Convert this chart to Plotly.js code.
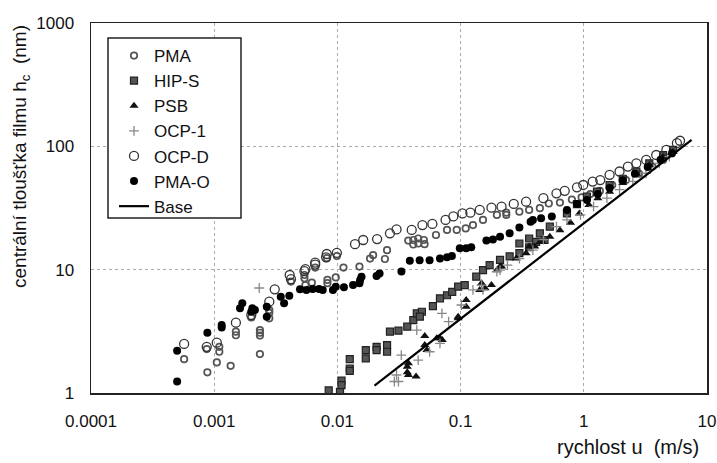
<!DOCTYPE html>
<html>
<head>
<meta charset="utf-8">
<script src="https://cdn.plot.ly/plotly-3.0.1.min.js"></script>
<style>html,body{margin:0;padding:0;background:#fff;}#chart{width:717px;height:463px;}</style>
</head>
<body>
<div id="chart"></div>
<script>
// ---- data (u in m/s, h_c in nm) ----
var pmaU = [0.00057,0.00088,0.00087,0.0011,0.0011,0.00105,0.00136,0.0015,0.0015,0.0020,0.00235,0.00235,0.00235,0.00235,0.0028,0.0028,0.0028,0.0042,0.0054,0.0054,0.0055,0.0062,0.0066,0.0082,0.0083,0.0083,0.0097,0.0099,0.0112,0.0151,0.0184,0.0195,0.0243,0.0253,0.0376,0.0413,0.0453,0.0503,0.0413,0.0453,0.051,0.0631,0.0776,0.093,0.11,0.126,0.152,0.197,0.235,0.235,0.30,0.36,0.44,0.52,0.64,0.8,0.96,1.13,1.35,1.7,2.2,2.8,3.6,4.4];
var pmaH = [1.88,1.47,2.27,2.37,2.16,1.77,1.66,3.14,2.94,4.1,3.24,3.08,2.92,2.07,4.7,4.47,4.03,8.0,9.05,8.5,7.5,7.84,10.4,12.4,8.25,7.77,8.65,12.9,10.4,10.6,12.3,13.1,12.2,14.4,17.2,17.4,17.9,17.4,16.0,16.3,16.1,19.1,21.0,21.0,21.6,23.0,25.3,27.8,27.8,29,29.5,30.5,31.5,34.4,35,37,38.5,41,43.5,48.6,53.3,60,68.5,77.6];

var hipU = [0.0085,0.0105,0.0108,0.0108,0.0126,0.0126,0.0126,0.017,0.017,0.0208,0.0208,0.0253,0.0253,0.0267,0.0313,0.0369,0.0413,0.0441,0.0485,0.0467,0.0596,0.068,0.0776,0.0855,0.0955,0.108,0.134,0.152,0.172,0.209,0.25,0.30,0.30,0.36,0.36,0.41,0.44,0.48,0.53,0.73,0.88,1.06,1.28,1.62,2.07,2.67,3.4,4.4,5.3];
var hipH = [1.05,1.02,1.26,1.16,1.88,1.58,1.51,2.23,1.91,2.37,2.23,2.44,2.16,3.14,3.2,3.45,3.9,4.43,4.56,4.16,5.07,5.85,6.2,6.6,7.28,7.5,8.77,9.9,10.9,12.0,12.8,13.6,16.3,15.2,17.9,16.8,19.7,17.4,22.3,28.6,34,39.2,42.9,48.6,54.6,62.5,72.8,85,93.5];

var psbU = [0.0369,0.0369,0.0377,0.0435,0.0377,0.0512,0.0512,0.0533,0.064,0.068,0.071,0.0955,0.0955,0.111,0.111,0.143,0.148,0.158,0.178,0.197,0.209,0.215,0.283,0.34,0.36,0.40,0.44,0.46,0.53,0.64,0.78,0.92,1.1,1.3,1.62,2.07,2.67,3.4,4.4,5.3];
var psbH = [1.47,1.63,1.74,1.36,1.40,2.9,2.45,2.23,2.78,2.78,2.69,4.16,4.03,5.0,5.67,6.85,7.77,7.07,7.5,9.9,10.6,10.6,12.3,13.6,15.4,15.4,16.8,16.8,18.5,20.9,24.0,28.6,33.5,38,42.9,50.5,60,70.7,82.5,90];

var ocp1U = [0.00232,0.029,0.0302,0.0313,0.033,0.0441,0.0453,0.056,0.068,0.0705,0.080,0.1015,0.126,0.148,0.152,0.197,0.209,0.24,0.30,0.386,0.47,0.6,0.73,0.94,1.2,1.54,1.95,2.5,3.2,4.1,4.95];
var ocp1H = [7.1,1.24,1.40,1.24,2.03,3.24,1.85,2.16,2.53,4.43,3.79,5.17,6.85,7.5,6.85,9.65,9.9,10.9,12.3,14.4,17.5,22.3,25.3,27.8,32.4,38,44.5,52,60.5,72.8,82.4];

var ocpdU = [0.00057,0.00087,0.00105,0.0015,0.0020,0.0028,0.0031,0.0041,0.0042,0.0054,0.0055,0.0066,0.0066,0.0081,0.0082,0.0099,0.0139,0.0162,0.021,0.0267,0.0302,0.0401,0.049,0.059,0.0755,0.0873,0.1035,0.12,0.143,0.178,0.215,0.27,0.34,0.47,0.6,0.7,0.88,0.99,1.18,1.36,1.62,1.95,2.28,2.67,3.21,3.87,4.68,5.7,6.04];
var ocpdH = [2.5,2.37,2.56,3.72,4.29,5.5,6.93,9.05,8.37,9.74,10.1,11.0,11.4,12.6,13.4,13.7,16.1,17.4,17.7,19.7,21.2,21.0,23.0,23.5,25.3,27.0,28.6,29.0,30.5,31.8,32.4,34.1,35.6,38,41.6,43.6,46.5,48.6,51.8,53.3,58.8,62.5,68.5,72.8,77.6,85.1,93.5,106,111];

var pmaoU = [0.0005,0.0005,0.00088,0.00115,0.00115,0.00162,0.00169,0.00204,0.00214,0.002,0.00267,0.00267,0.00347,0.00369,0.00407,0.00497,0.0056,0.0063,0.0071,0.0076,0.0092,0.0097,0.0113,0.0134,0.0151,0.0157,0.0153,0.0208,0.022,0.0331,0.0387,0.0465,0.056,0.068,0.0776,0.085,0.0985,0.111,0.122,0.162,0.183,0.209,0.25,0.30,0.37,0.386,0.45,0.55,0.73,0.88,1.06,1.3,1.62,2.07,2.6,3.3,4.2,5.2];
var pmaoH = [2.2,1.24,3.08,3.56,3.39,4.86,5.34,4.86,4.7,4.56,5.0,4.16,6.04,5.33,6.15,6.93,6.85,6.97,6.97,6.85,6.85,7.28,7.2,7.5,7.77,8.77,8.25,8.9,9.3,9.65,11.8,11.9,11.9,12.3,12.6,12.9,14.9,14.9,15.2,17.2,17.6,18.5,19.7,22.0,24.5,25.3,26.1,27.0,30.5,34,36.8,41,46,53,60,68,78,88];

var baseU = [0.02, 7.5];
var baseH = [1.15, 113];

var xTickVals = [0.0001,0.001,0.01,0.1,1,10];
var xTickText = ['0.0001','0.001','0.01','0.1','1','10'];
var yTickVals = [1,10,100,1000];
var yTickText = ['1','10','100','1000'];

var FONT = '"Liberation Sans", Arial, sans-serif';

var traces = [
  {name:'PMA', x:pmaU, y:pmaH, mode:'markers', type:'scatter',
   marker:{symbol:'circle-open', size:6.5, color:'#555', line:{width:1.7, color:'#555'}}},
  {name:'HIP-S', x:hipU, y:hipH, mode:'markers', type:'scatter',
   marker:{symbol:'square', size:7, color:'#555', line:{width:1.2, color:'#222'}}},
  {name:'PSB', x:psbU, y:psbH, mode:'markers', type:'scatter',
   marker:{symbol:'triangle-up', size:8, color:'#111'}},
  {name:'OCP-1', x:ocp1U, y:ocp1H, mode:'markers', type:'scatter',
   marker:{symbol:'cross-thin-open', size:7, color:'#888', line:{width:1.3, color:'#888'}}},
  {name:'OCP-D', x:ocpdU, y:ocpdH, mode:'markers', type:'scatter',
   marker:{symbol:'circle-open', size:9, color:'#333', line:{width:1.3, color:'#333'}}},
  {name:'PMA-O', x:pmaoU, y:pmaoH, mode:'markers', type:'scatter',
   marker:{symbol:'circle', size:8, color:'#000'}},
  {name:'Base', x:baseU, y:baseH, mode:'lines', type:'scatter',
   line:{color:'#000', width:2.2}}
];

// paper coords of the legend frame (plot area spans x 91..707, y 23..393 px)
var boxX0 = (108-91)/616, boxX1 = (241-91)/616;
var boxY0 = (393-218)/370, boxY1 = (393-38)/370;

var layout = {
  width:717, height:463,
  margin:{l:91, r:10, t:23, b:70},
  paper_bgcolor:'#fff', plot_bgcolor:'#fff',
  font:{family:FONT, size:17, color:'#111'},
  showlegend:true,
  legend:{x:(114-91)/616, y:(393-38)/370, xanchor:'left', yanchor:'top',
    bgcolor:'rgba(0,0,0,0)', borderwidth:0,
    font:{family:FONT, size:17, color:'#111'}, tracegroupgap:0},
  shapes:[
    {type:'rect', xref:'paper', yref:'paper', x0:boxX0, x1:boxX1, y0:boxY0, y1:boxY1,
     line:{color:'#222', width:1.5}, fillcolor:'#fff', layer:'above'}
  ],
  xaxis:{type:'log', range:[-4,1], tickvals:xTickVals, ticktext:xTickText,
    showline:true, linecolor:'#222', linewidth:1.5, mirror:true,
    showgrid:true, gridcolor:'#aaa', griddash:'dot', gridwidth:1,
    zeroline:false, ticks:'', ticklabelstandoff:12,
    tickfont:{family:FONT, size:17, color:'#111'}},
  yaxis:{type:'log', range:[0,3], tickvals:yTickVals, ticktext:yTickText,
    showline:true, linecolor:'#222', linewidth:1.5, mirror:true,
    showgrid:true, gridcolor:'#aaa', griddash:'dot', gridwidth:1,
    zeroline:false, ticks:'', ticklabelstandoff:12,
    tickfont:{family:FONT, size:17, color:'#111'}},
  annotations:[
    {text:'rychlost u  (m/s)', xref:'paper', yref:'paper', x:(701-91)/616, y:(393-447)/370,
     xanchor:'right', yanchor:'middle', showarrow:false,
     font:{family:FONT, size:20, color:'#111'}},
    {text:'centrální tloušťka filmu h<sub>c</sub>  (nm)', xref:'paper', yref:'paper',
     x:(21-91)/616, y:(393-157)/370, xanchor:'center', yanchor:'middle', textangle:-90, showarrow:false,
     font:{family:FONT, size:19, color:'#111'}}
  ]
};

Plotly.newPlot('chart', traces, layout, {displayModeBar:false, staticPlot:true});
</script>
</body>
</html>
